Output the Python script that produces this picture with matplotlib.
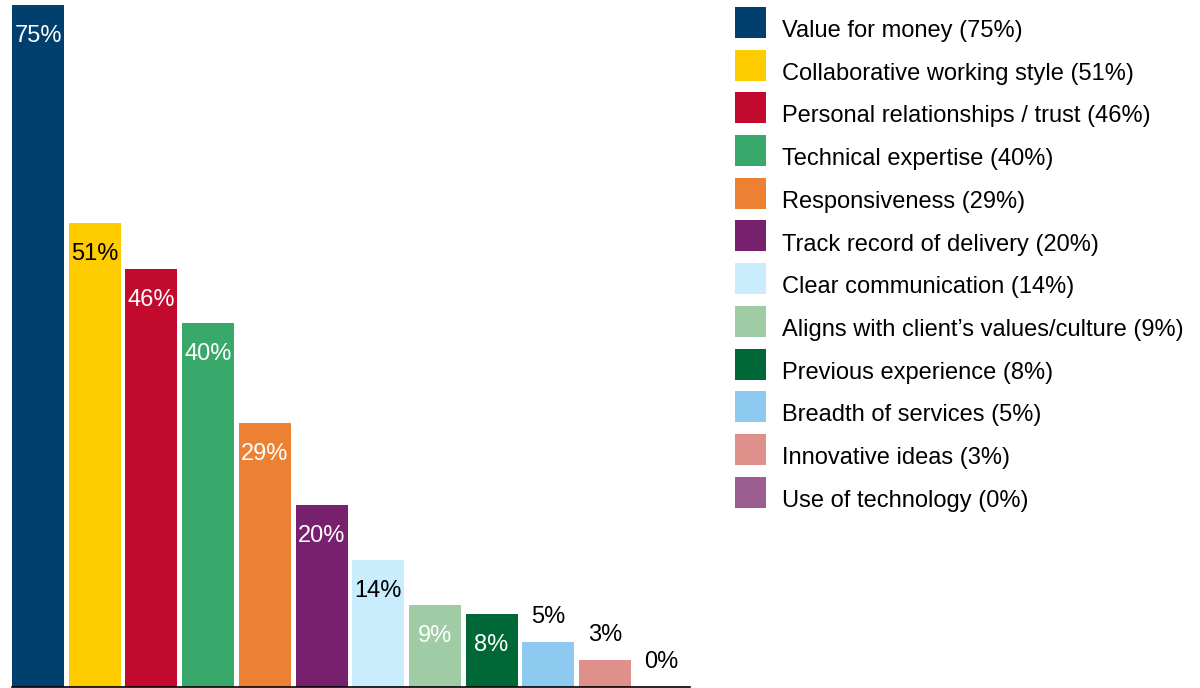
import matplotlib.pyplot as plt
from matplotlib.patches import Rectangle

plt.rcParams['font.family'] = ['Liberation Sans', 'DejaVu Sans']

# Data
categories = [
    'Value for money', 'Collaborative working style', 'Personal relationships / trust',
    'Technical expertise', 'Responsiveness', 'Track record of delivery',
    'Clear communication', 'Aligns with client\u2019s values/culture', 'Previous experience',
    'Breadth of services', 'Innovative ideas', 'Use of technology',
]
values = [75, 51, 46, 40, 29, 20, 14, 9, 8, 5, 3, 0]
colors = ['#003F6E', '#FFCC00', '#C20A2F', '#38A96A', '#EC8033', '#76206E',
          '#C9EDFC', '#9FCBA5', '#006737', '#8ECAEF', '#E0908A', '#9C5D91']
label_colors = ['white', 'black', 'white', 'white', 'white', 'white',
                'black', 'white', 'white', 'black', 'black', 'black']

W, H = 1200, 688
fig = plt.figure(figsize=(W / 100, H / 100), dpi=100)
ax = fig.add_axes([12 / W, 1 / H, (690 - 12) / W, 682 / H])

x = list(range(len(values)))
bar_w = 52 / 56.7
ax.bar(x, values, width=bar_w, color=colors, linewidth=0)
ax.set_xlim(-bar_w / 2, -bar_w / 2 + 678 / 56.7)
ax.set_ylim(0, 75)

for i, v in enumerate(values):
    if v > 5:
        off = -37  # inside the bar, below the top
    else:
        off = 19   # above the bar
    ax.annotate(f'{v}%', (i, v), xytext=(0, off), textcoords='offset pixels',
                ha='center', va='baseline', fontsize=17, color=label_colors[i])

for s in ['top', 'right', 'left']:
    ax.spines[s].set_visible(False)
ax.spines['bottom'].set_linewidth(1.2)
ax.spines['bottom'].set_color('black')
ax.set_xticks([])
ax.set_yticks([])

# legend drawn in figure pixels
pitch = 42.7
for i, (cat, v, c) in enumerate(zip(categories, values, colors)):
    top = 7 + i * pitch
    fig.add_artist(Rectangle((735 / W, 1 - (top + 31) / H), 31 / W, 31 / H,
                             transform=fig.transFigure, color=c, linewidth=0))
    fig.text(782 / W, 1 - (top + 30) / H, f'{cat} ({v}%)', fontsize=17,
             va='baseline', ha='left', color='black')

fig.savefig('out.png', dpi=100)
